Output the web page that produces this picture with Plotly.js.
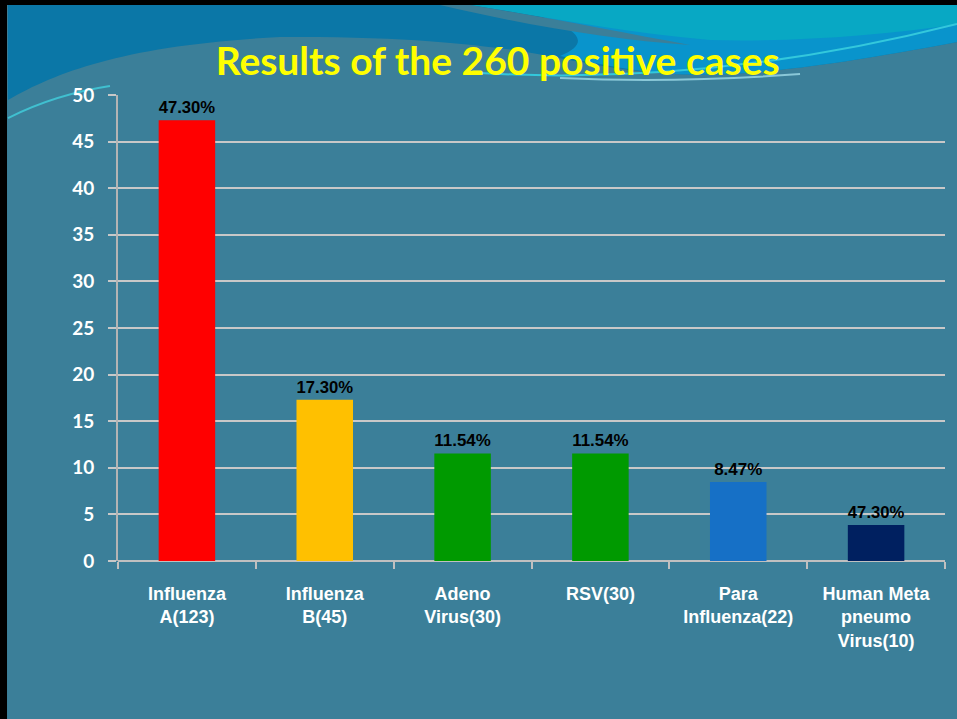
<!DOCTYPE html>
<html>
<head>
<meta charset="utf-8">
<script src="https://cdn.plot.ly/plotly-3.0.1.min.js"></script>
<style>
html,body{margin:0;padding:0;background:#3b7f99;}
#chart{width:957px;height:719px;}
</style>
</head>
<body>
<div id="chart"></div>
<script>
// ---- data ----
var categories = ["Influenza<br>A(123)", "Influenza<br>B(45)", "Adeno<br>Virus(30)", "RSV(30)", "Para<br>Influenza(22)", "Human Meta<br>pneumo<br>Virus(10)"];
var values = [47.3, 17.3, 11.54, 11.54, 8.47, 3.85];
var barLabels = ["47.30%", "17.30%", "11.54%", "11.54%", "8.47%", "47.30%"];
var barColors = ["#ff0000", "#ffc000", "#009a00", "#009a00", "#1670c6", "#002060"];
var titleText = "Results of the 260 positive cases";

// ---- layout geometry (pixels) ----
var W = 957, H = 719;
var L = 118, R = 945, T = 95, B = 561;
function px(x){ return ((x - L) / (R - L)).toFixed(4); }
function py(y){ return ((B - y) / (B - T)).toFixed(4); }
// convert a pixel path into paper coordinates
function pth(s){
  return s.replace(/(-?\d+\.?\d*),(-?\d+\.?\d*)/g, function(m, a, b){ return px(+a) + ',' + py(+b); });
}
var bg = "#3b7f99";
function deco(path, fill, line){
  return {type:'path', xref:'paper', yref:'paper', layer:'below',
          line: line || {width:0}, fillcolor: fill || 'rgba(0,0,0,0)', path: pth(path)};
}
var shapes = [
  // dark blue sky above the hatched hill
  deco("M 8,100 C 60,70 130,45 280,37 C 400,36 470,44 513,50 C 560,57 600,68 660,73 C 720,78 800,72 957,42 L 957,5 L 8,5 Z", '#0b77a7'),
  // brighter blue towards the right
  deco("M 500,5 L 957,5 L 957,42 C 800,72 720,78 660,73 C 620,69 590,62 560,56 C 600,40 570,22 500,5 Z", '#0994cc'),
  // cyan top-right
  deco("M 470,5 L 957,5 L 957,24 C 880,36 790,42 710,40 C 620,32 540,16 470,5 Z", '#08a8c4'),
  // hatched thin band
  deco("M 440,5 L 470,5 C 540,16 620,32 690,45 C 610,40 520,24 440,5 Z", bg),
  // light streaks
  deco("M 480,73 C 600,80 760,74 957,24", null, {color:'#33c8dc', width:2}),
  deco("M 560,78 C 650,82 720,80 800,74", null, {color:'#8ac8d8', width:2}),
  deco("M 8,118 C 40,102 70,92 110,86", null, {color:'#40c0d0', width:2}),
  // slide border
  {type:'rect', xref:'paper', yref:'paper', layer:'above', line:{width:0}, fillcolor:'#000000',
   x0: px(0), x1: px(W), y0: py(0), y1: py(5)},
  {type:'rect', xref:'paper', yref:'paper', layer:'above', line:{width:0}, fillcolor:'#000000',
   x0: px(0), x1: px(7), y0: py(0), y1: py(H)}
];

var trace = {
  type: 'bar',
  x: categories,
  y: values,
  text: barLabels,
  textposition: 'outside',
  textfont: {family: 'Liberation Sans, Arial, sans-serif', size: 17, color: '#000000', weight: 'bold'},
  marker: {color: barColors, line: {width: 0}},
  cliponaxis: false,
  hoverinfo: 'skip'
};

var layout = {
  width: W, height: H,
  paper_bgcolor: bg,
  plot_bgcolor: 'rgba(0,0,0,0)',
  margin: {l: L, r: W - R, t: T, b: H - B, pad: 0},
  showlegend: false,
  bargap: 0.59,
  title: {
    text: '<b>' + titleText + '</b>',
    font: {family: 'Lato, Open Sans, sans-serif', size: 39, color: '#ffff00'},
    x: 0.52, xanchor: 'center', y: 1 - 61 / H, yanchor: 'middle'
  },
  xaxis: {
    type: 'category',
    showgrid: false,
    zeroline: false,
    showline: false,
    ticks: 'outside', tickson: 'boundaries', ticklen: 7, tickwidth: 2, tickcolor: '#c0c0c0',
    tickfont: {family: 'Liberation Sans, Arial, sans-serif', size: 18, color: '#ffffff', weight: 'bold'},
    ticklabelstandoff: 20,
    tickangle: 0,
    automargin: false
  },
  yaxis: {
    range: [0, 50],
    dtick: 5, tick0: 0,
    showgrid: true, gridcolor: '#c8c8c8', gridwidth: 2,
    zeroline: true, zerolinecolor: '#c0c0c0', zerolinewidth: 2,
    showline: true, linecolor: '#b4b4b4', linewidth: 2,
    ticks: 'outside', ticklen: 8, tickwidth: 2, tickcolor: '#c8c8c8',
    tickfont: {family: 'Lato, sans-serif', size: 19, color: '#ffffff', weight: 'bold'},
    ticklabelstandoff: 10,
    automargin: false
  },
  shapes: shapes
};

Plotly.newPlot('chart', [trace], layout, {displayModeBar: false, staticPlot: true});
</script>
</body>
</html>
